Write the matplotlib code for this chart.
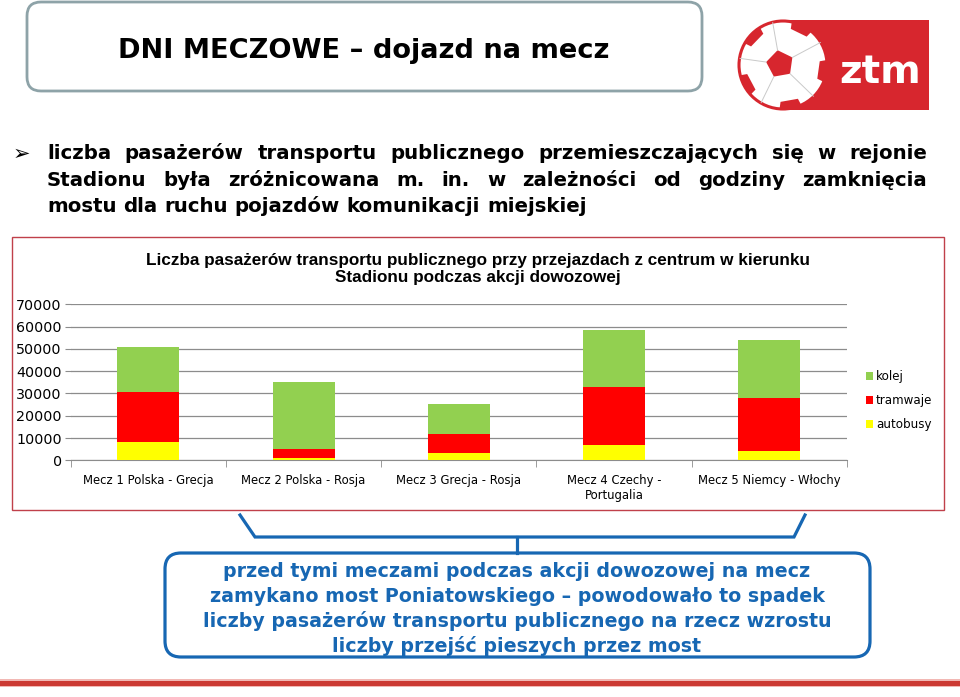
import matplotlib
matplotlib.use("Agg")
import matplotlib.pyplot as plt
import numpy as np
from matplotlib.patches import FancyBboxPatch, Rectangle, Circle, Polygon, Patch

# ---------------- data ----------------
categories = ['Mecz 1 Polska - Grecja', 'Mecz 2 Polska - Rosja', 'Mecz 3 Grecja - Rosja',
              'Mecz 4 Czechy -\nPortugalia', 'Mecz 5 Niemcy - Włochy']
autobusy = [8400, 1000, 3100, 6700, 4200]
tramwaje = [22200, 4200, 8700, 26300, 23600]
kolej = [20200, 29900, 13600, 25300, 26200]
series_names = ['kolej', 'tramwaje', 'autobusy']
yticks = [0, 10000, 20000, 30000, 40000, 50000, 60000, 70000]

title_text = 'DNI MECZOWE – dojazd na mecz'
bullet_lines = ['liczba pasażerów transportu publicznego przemieszczających się w rejonie',
                'Stadionu była zróżnicowana m. in. w zależności od godziny zamknięcia',
                'mostu dla ruchu pojazdów komunikacji miejskiej']
chart_title = 'Liczba pasażerów transportu publicznego przy przejazdach z centrum w kierunku\nStadionu podczas akcji dowozowej'
callout_lines = ['przed tymi meczami podczas akcji dowozowej na mecz',
                 'zamykano most Poniatowskiego – powodowało to spadek',
                 'liczby pasażerów transportu publicznego na rzecz wzrostu',
                 'liczby przejść pieszych przez most']

C_GREEN, C_RED, C_YEL = '#92D050', '#FF0000', '#FFFF00'
BLUE = '#1767B3'
LOGO_RED = '#D7262E'

W, H = 960, 697
fig = plt.figure(figsize=(W / 100, H / 100), dpi=100)
bg = fig.add_axes([0, 0, 1, 1])
bg.set_xlim(0, W)
bg.set_ylim(H, 0)
bg.axis('off')

# ---- title box ----
bg.add_patch(FancyBboxPatch((27, 2), 675, 89, boxstyle='round,pad=0,rounding_size=14',
                            facecolor='white', edgecolor='#8EA3A8', linewidth=2))
bg.text(364, 58, title_text, ha='center', va='baseline', fontsize=19.6,
        fontweight='bold', family='DejaVu Sans', color='black')

# ---- logo ----
bg.add_patch(Rectangle((790, 20), 139, 90, facecolor=LOGO_RED, edgecolor='none'))
cx, cy, r = 783, 65, 44
ball = Circle((cx, cy), r, facecolor='white', edgecolor=LOGO_RED, linewidth=2.2)
bg.add_patch(ball)

def pent(x, y, s, rot):
    a = np.deg2rad(rot + np.arange(5) * 72)
    return np.c_[x + s * np.cos(a), y + s * np.sin(a)]

central = pent(cx - 3, cy - 1, 14, -100)
for vx, vy in central:
    dx, dy = vx - (cx - 3), vy - (cy - 1)
    n = np.hypot(dx, dy)
    ln, = bg.plot([vx, cx - 3 + dx / n * r * 1.1], [vy, cy - 1 + dy / n * r * 1.1],
                  color='#C9C9C9', lw=0.7)
    ln.set_clip_path(ball)
bg.add_patch(Polygon(central, closed=True, facecolor=LOGO_RED, edgecolor='none'))
for ang in [-100, -28, 44, 116, 188]:
    t = np.deg2rad(ang + 36)
    px_, py_ = cx + (r + 4) * np.cos(t), cy + (r + 4) * np.sin(t)
    pg = Polygon(pent(px_, py_, 15, ang + 36), closed=True, facecolor=LOGO_RED, edgecolor='none')
    bg.add_patch(pg)
    pg.set_clip_path(ball)
bg.text(880, 83, 'ztm', ha='center', va='baseline', fontsize=28, fontweight='bold',
        color='white', family='DejaVu Sans')

# ---- bullet text (justified) ----
renderer = fig.canvas.get_renderer()
bg.text(13, 160, '➢', fontsize=15, va='baseline', ha='left', family='DejaVu Sans', color='black')
x0, x1 = 47, 927
baselines = [159, 186, 212]
fs_b = 14.2
for i, line in enumerate(bullet_lines):
    words = line.split(' ')
    objs = [bg.text(0, baselines[i], w, fontsize=fs_b, fontweight='bold', family='DejaVu Sans',
                    va='baseline', ha='left') for w in words]
    widths = [o.get_window_extent(renderer).width for o in objs]
    if i < len(bullet_lines) - 1:
        gap = (x1 - x0 - sum(widths)) / (len(words) - 1)
    else:
        sp = bg.text(0, 0, 'a a', fontsize=fs_b, fontweight='bold', family='DejaVu Sans')
        sp2 = bg.text(0, 0, 'aa', fontsize=fs_b, fontweight='bold', family='DejaVu Sans')
        gap = sp.get_window_extent(renderer).width - sp2.get_window_extent(renderer).width
        sp.remove(); sp2.remove()
    x = x0
    for o, wd in zip(objs, widths):
        o.set_x(x)
        x += wd + gap

# ---- chart frame ----
bg.add_patch(Rectangle((12, 237), 932, 273, facecolor='white', edgecolor='#C0404A', linewidth=1))
bg.text(478, 269, chart_title, ha='center', va='center', fontsize=12.3, fontweight='bold',
        family='Liberation Sans', linespacing=1.1, color='black')

# ---- chart axes ----
ax_l, ax_r, ax_t, ax_b = 70.7, 847, 304.3, 460.3
ax = fig.add_axes([ax_l / W, 1 - ax_b / H, (ax_r - ax_l) / W, (ax_b - ax_t) / H])
ax.set_facecolor('none')
x = np.arange(len(categories))
b1 = np.array(autobusy)
b2 = b1 + np.array(tramwaje)
ax.bar(x, autobusy, width=0.4, color=C_YEL, zorder=3)
ax.bar(x, tramwaje, width=0.4, bottom=b1, color=C_RED, zorder=3)
ax.bar(x, kolej, width=0.4, bottom=b2, color=C_GREEN, zorder=3)
ax.set_xlim(-0.5, len(categories) - 0.5)
ax.set_ylim(0, 70000)
ax.set_yticks(yticks)
ax.set_yticklabels([str(v) for v in yticks], fontsize=10.3, family='DejaVu Sans')
ax.yaxis.grid(True, color='#8C8C8C', linewidth=0.9, zorder=0)
ax.set_axisbelow(True)
ax.tick_params(axis='y', length=4, color='#8C8C8C', pad=2.5)
ax.set_xticks(x)
ax.set_xticklabels(categories, fontsize=8.4, family='DejaVu Sans', linespacing=1.15)
ax.set_xticks(np.arange(-0.5, len(categories)), minor=True)
ax.tick_params(axis='x', which='major', length=0, pad=10)
ax.tick_params(axis='x', which='minor', length=5, color='#8C8C8C')
for s in ['top', 'right', 'left']:
    ax.spines[s].set_visible(False)
ax.spines['bottom'].set_color('#8C8C8C')

handles = [Patch(facecolor=C_GREEN), Patch(facecolor=C_RED), Patch(facecolor=C_YEL)]
fig.legend(handles, series_names, loc='center left', bbox_to_anchor=(866 / W, 1 - 400.7 / H),
           frameon=False, fontsize=8.6, handlelength=0.6, handleheight=0.6, handletextpad=0.25,
           labelspacing=0.9, borderpad=0, borderaxespad=0)

# ---- bracket & callout ----
bg.plot([240, 255, 794, 805], [515, 537, 537, 515], color=BLUE, lw=2.3, solid_joinstyle='miter')
bg.plot([517, 517], [537, 553], color=BLUE, lw=2.3)
bg.add_patch(FancyBboxPatch((165, 553), 705, 104, boxstyle='round,pad=0,rounding_size=16',
                            facecolor='white', edgecolor=BLUE, linewidth=2.3))
for i, line in enumerate(callout_lines):
    bg.text(517, 576.7 + 25 * i, line, ha='center', va='baseline', fontsize=13.7,
            fontweight='bold', family='DejaVu Sans', color=BLUE)

# ---- bottom red line ----
bg.add_patch(Rectangle((0, 679), W, 8, facecolor='#F2B8B4', edgecolor='none'))
bg.add_patch(Rectangle((0, 680.5), W, 5, facecolor='#CC3A33', edgecolor='none'))

fig.savefig('out.png', dpi=100)
